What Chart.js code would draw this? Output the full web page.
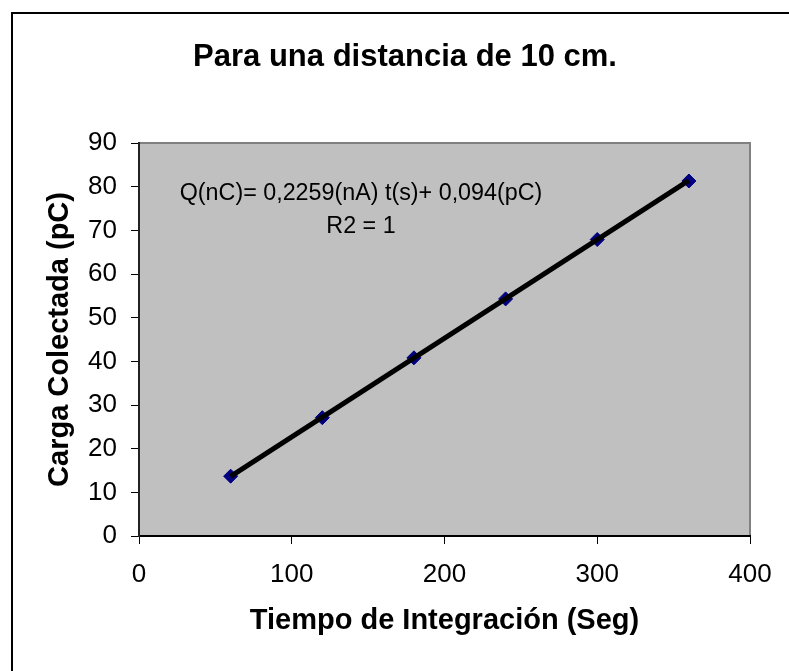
<!DOCTYPE html>
<html>
<head>
<meta charset="UTF-8">
<title>Para una distancia de 10 cm.</title>
<script src="https://cdn.jsdelivr.net/npm/chart.js@4/dist/chart.umd.min.js"></script>
<style type="text/css">
html, body {
    margin: 0;
    padding: 0;
    background: #fff;
    overflow: hidden;
}
#marco {
    position: absolute;
    left: 11px;
    top: 12px;
    width: 820px;
    height: 700px;
    border: 2px solid #000;
    box-sizing: border-box;
}
#grafico {
    position: absolute;
    left: 0;
    top: 0;
}
</style>
</head>
<body>
<div id="marco"></div>
<canvas id="grafico" width="789" height="671"></canvas>

<script type="text/javascript">
// datos
var tiempo = [60, 120, 180, 240, 300, 360]
var carga = [13.7, 27.1, 40.8, 54.3, 67.9, 81.3]

// linea de tendencia (extremos)
var tendenciaX = [60, 360]
var tendenciaY = [13.65, 81.42]

var titulo = 'Para una distancia de 10 cm.'
var ecuacion = ['Q(nC)= 0,2259(nA) t(s)+ 0,094(pC)', 'R2 = 1']

var fuente = '"Liberation Sans", Arial, sans-serif'

var puntos = tiempo.map(function(t, i) { return {x: t, y: carga[i]} })
var tendencia = tendenciaX.map(function(t, i) { return {x: t, y: tendenciaY[i]} })

// fondo gris del area de trazado
var fondo = {
    id: 'fondo',
    beforeDraw: function(chart) {
        var a = chart.chartArea, ctx = chart.ctx
        ctx.save()
        ctx.fillStyle = '#c0c0c0'
        ctx.fillRect(a.left, a.top, a.right - a.left, a.bottom - a.top)
        ctx.strokeStyle = '#808080'
        ctx.lineWidth = 2
        ctx.beginPath()
        ctx.moveTo(a.left, a.top)
        ctx.lineTo(a.right, a.top)
        ctx.lineTo(a.right, a.bottom)
        ctx.stroke()
        ctx.restore()
    }
}

// titulo y texto de la ecuacion
var etiqueta = {
    id: 'etiqueta',
    afterDraw: function(chart) {
        var a = chart.chartArea, ctx = chart.ctx
        ctx.save()
        ctx.fillStyle = '#000'
        ctx.textAlign = 'center'
        ctx.textBaseline = 'alphabetic'
        ctx.font = 'bold 31px ' + fuente
        ctx.fillText(titulo, 405, 66)
        ctx.font = '23.3px ' + fuente
        ctx.fillText(ecuacion[0], a.left + 222, a.top + 57)
        ctx.fillText(ecuacion[1], a.left + 222, a.top + 90)
        ctx.restore()
    }
}

var ctx = document.getElementById('grafico').getContext('2d')

var chart = new Chart(ctx, {
    type: 'scatter',
    data: {
        datasets: [{
            label: 'Tendencia',
            data: tendencia,
            showLine: true,
            borderColor: '#000',
            borderWidth: 5,
            pointRadius: 0,
            order: 0
        }, {
            label: 'Carga',
            data: puntos,
            showLine: true,
            borderColor: '#000080',
            backgroundColor: '#000080',
            borderWidth: 1,
            pointStyle: 'rectRot',
            pointRadius: 7,
            pointBorderWidth: 1,
            order: 1
        }]
    },
    options: {
        responsive: false,
        animation: false,
        layout: {
            padding: {left: 0, top: 143, right: 39, bottom: 0}
        },
        plugins: {
            legend: {display: false},
            tooltip: {enabled: false},
            title: {display: false}
        },
        scales: {
            x: {
                type: 'linear',
                min: 0,
                max: 400,
                afterFit: function(s) { s.height = 135 },
                ticks: {
                    stepSize: 100,
                    color: '#000',
                    font: {family: fuente, size: 26},
                    padding: 15
                },
                grid: {
                    drawOnChartArea: false,
                    tickLength: 8,
                    tickColor: '#000',
                    tickWidth: 1
                },
                border: {color: '#000', width: 2},
                title: {
                    display: true,
                    text: 'Tiempo de Integración (Seg)',
                    color: '#000',
                    font: {family: fuente, size: 29, weight: 'bold'},
                    padding: {top: 0, bottom: 33}
                }
            },
            y: {
                type: 'linear',
                min: 0,
                max: 90,
                afterFit: function(s) { s.width = 139 },
                ticks: {
                    stepSize: 10,
                    color: '#000',
                    font: {family: fuente, size: 26},
                    padding: 14
                },
                grid: {
                    drawOnChartArea: false,
                    tickLength: 8,
                    tickColor: '#000',
                    tickWidth: 1
                },
                border: {color: '#222', width: 2},
                title: {
                    display: true,
                    text: 'Carga Colectada (pC)',
                    color: '#000',
                    font: {family: fuente, size: 29, weight: 'bold'},
                    padding: {top: 43, bottom: 0}
                }
            }
        }
    },
    plugins: [fondo, etiqueta]
})
</script>
</body>
</html>
